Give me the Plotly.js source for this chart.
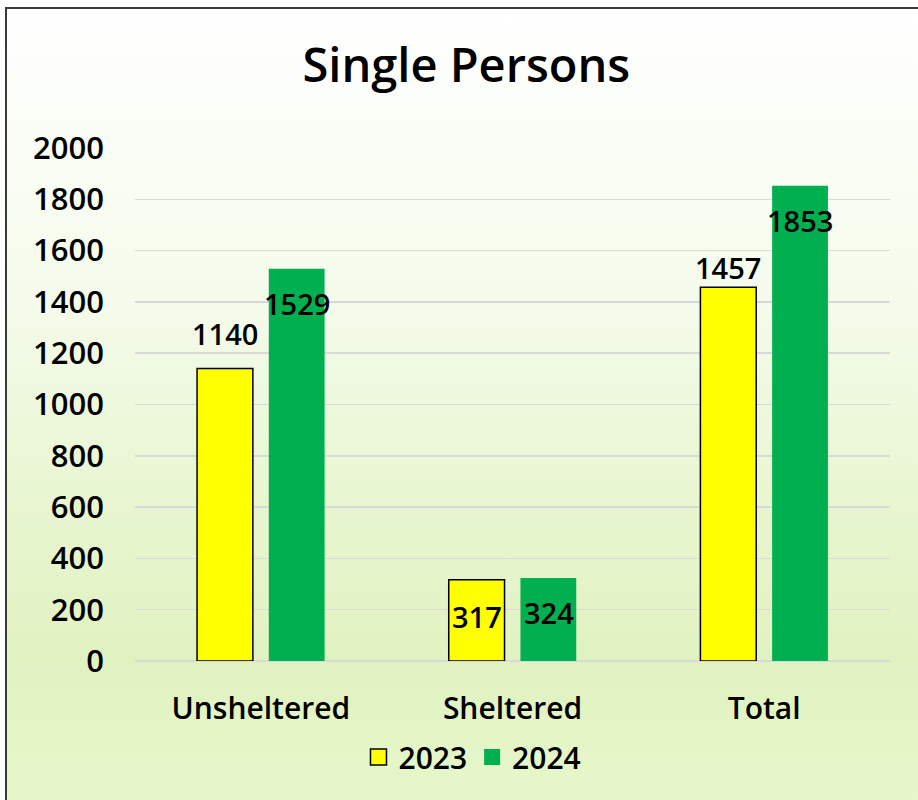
<!DOCTYPE html>
<html>
<head>
<meta charset="utf-8">
<script src="https://cdn.plot.ly/plotly-3.0.1.min.js"></script>
<style>
  html, body { margin:0; padding:0; width:918px; height:800px; overflow:hidden; background:#ffffff; }
  #frame { position:absolute; left:5px; top:7px; width:1000px; height:1000px;
    border-left:2px solid #3a3a3a; border-top:2px solid #3a3a3a;
    background: linear-gradient(to bottom, #ffffff 0px, #f4fbea 300px, #e9f6d2 480px, #e1f2c1 650px, #e6f8ca 793px, #e6f8ca 1000px); }
  #chart { position:absolute; left:0; top:0; width:918px; height:800px; }
</style>
</head>
<body>
<div id="frame"></div>
<div id="chart"></div>
<script>
const categories = ["Unsheltered", "Sheltered", "Total"];
const values2023 = [1140, 317, 1457];
const values2024 = [1529, 324, 1853];
const seriesNames = ["2023", "2024"];
const yTicks = [0, 200, 400, 600, 800, 1000, 1200, 1400, 1600, 1800, 2000];

// label vertical pixel shifts (style only)
const shift2023 = [35, -37, 20];
const shift2024 = [-35, -35, -35];

const fontFamily = "'Open Sans', 'Noto Sans', sans-serif";
const yellow = "#ffff00", green = "#00b050";

const trace2023 = {
  type: "bar", name: seriesNames[0], x: categories, y: values2023, showlegend: false,
  marker: { color: yellow, line: { color: "#000000", width: 1.5 } },
  hoverinfo: "none"
};
const trace2024 = {
  type: "bar", name: seriesNames[1], x: categories, y: values2024, showlegend: false,
  marker: { color: green, line: { color: green, width: 0 } },
  hoverinfo: "none"
};
// legend entries
const legend2023 = { type: "scatter", mode: "markers", name: seriesNames[0], x: [null], y: [null],
  marker: { symbol: "square", size: 17, color: yellow, line: { color: "#000000", width: 1.5 } } };
const legend2024 = { type: "scatter", mode: "markers", name: seriesNames[1], x: [null], y: [null],
  marker: { symbol: "square", size: 17, color: green, line: { color: green, width: 0 } } };

const annotations = [];
categories.forEach((c, i) => {
  annotations.push({ x: c, y: values2023[i], xref: "x", yref: "y", text: String(values2023[i]),
    showarrow: false, xshift: -36, yshift: shift2023[i], yanchor: "middle",
    font: { family: fontFamily, size: 29, color: "#000000", weight: 600 } });
  annotations.push({ x: c, y: values2024[i], xref: "x", yref: "y", text: String(values2024[i]),
    showarrow: false, xshift: 36, yshift: shift2024[i], yanchor: "middle",
    font: { family: fontFamily, size: 29, color: "#000000", weight: 600 } });
});

const layout = {
  width: 918, height: 800,
  margin: { l: 135, r: 28, t: 148, b: 139 },
  paper_bgcolor: "rgba(0,0,0,0)",
  plot_bgcolor: "rgba(0,0,0,0)",
  barmode: "group",
  bargap: 0.43,
  bargroupgap: 0.222,
  title: { text: "Single Persons", x: 0.508, xref: "container", y: 1 - 66/800, yref: "container",
    xanchor: "center", yanchor: "middle",
    font: { family: fontFamily, size: 47, color: "#000000", weight: 600 } },
  xaxis: {
    type: "category", showgrid: false, zeroline: false, showline: false, ticks: "",
    ticklabelstandoff: 27,
    tickfont: { family: fontFamily, size: 30, color: "#000000", weight: 600 }
  },
  yaxis: {
    range: [0, 2000], tickvals: yTicks, ticktext: yTicks.map(String),
    showgrid: true, gridcolor: "#d9d9d9", gridwidth: 1.5,
    zeroline: true, zerolinecolor: "#d9d9d9", zerolinewidth: 1.5,
    showline: false, ticks: "", ticklabelstandoff: 30,
    tickfont: { family: fontFamily, size: 31, color: "#000000", weight: 600 }
  },
  showlegend: true,
  legend: { orientation: "h", x: 0.447, xanchor: "center", y: -0.187, yanchor: "middle",
    bgcolor: "rgba(0,0,0,0)", itemwidth: 30, tracegroupgap: 0,
    font: { family: fontFamily, size: 30, color: "#000000", weight: 600 } },
  annotations: annotations
};

Plotly.newPlot("chart", [trace2023, trace2024, legend2023, legend2024], layout, { displayModeBar: false, staticPlot: true });
</script>
</body>
</html>
